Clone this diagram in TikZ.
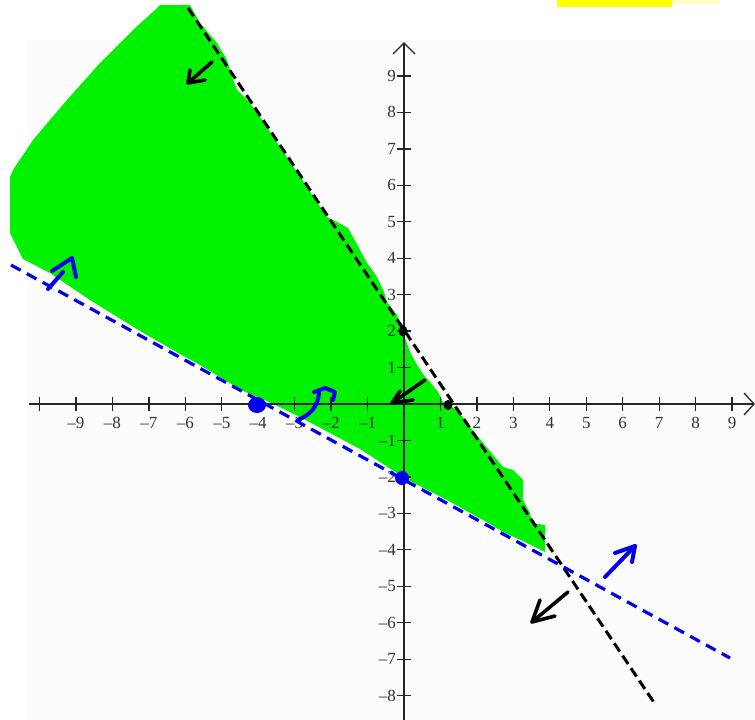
\documentclass[tikz,border=0pt]{standalone}
\usepackage{fontspec}
\setmainfont{Liberation Serif}
\definecolor{regiongreen}{RGB}{0,242,0}
\definecolor{lineblue}{RGB}{0,0,235}
\definecolor{hlyellow}{RGB}{255,255,0}
\tikzset{
  axisline/.style={line width=1.3pt, black!85},
  ticklabel/.style={inner sep=0pt, font=\fontsize{17}{20}\selectfont, text=black!80},
  blackdash/.style={line width=3pt, black, dash pattern=on 10pt off 5pt},
  bluedash/.style={line width=3.2pt, lineblue, dash pattern=on 11pt off 7pt},
  penblack/.style={line width=3.6pt, black, line cap=round, line join=round},
  penblue/.style={line width=4pt, lineblue, line cap=round, line join=round},
}
\begin{document}
\begin{tikzpicture}[x=1pt,y=-1pt]
\useasboundingbox (0,0) rectangle (755,720);
% faint page background and highlight
\fill[black!1] (27,40) rectangle (755,720);
\fill[hlyellow] (557,0) rectangle (672,7);
\fill[hlyellow!25] (672,0) rectangle (720,4);
% shaded region
\fill[regiongreen] (160,5) -- (190,5) -- (200,23) -- (217,43) -- (227,60) -- (232,77)
  -- (237,90) -- (250,103) -- (260,117) -- (327,217) -- (337,222) -- (348,228)
  -- (353,237) -- (367,263) -- (377,277) -- (384,292) -- (387,302) -- (397,315)
  -- (402,327) -- (405,338) -- (410,352) -- (417,365) -- (425,377) -- (430,382)
  -- (438,392) -- (443,402) -- (457,410) -- (470,427) -- (503,467) -- (513,470)
  -- (523,480) -- (523,500) -- (530,513) -- (532,523) -- (545,525) -- (545,552)
  -- (523,541) -- (507,534) -- (490,524) -- (447,500) -- (410,481) -- (400,475)
  -- (360,449) -- (300,417) -- (267,401) -- (243,391) -- (200,365) -- (180,354)
  -- (140,331) -- (90,300) -- (50,273) -- (23,259) -- (17,247) -- (10,233)
  -- (10,177) -- (13,170) -- (33,140) -- (67,100) -- (100,63) -- (133,30)
  -- (155,10) -- cycle;
% axes
\coordinate (xl) at (29,404);
\coordinate (xr) at (754,404);
\coordinate (yb) at (404,720);
\coordinate (yt) at (404,43);
\draw[axisline] (xl) -- (xr);
\draw[axisline] ([shift={(-10,-11)}]xr) -- (xr) -- ([shift={(-10,11)}]xr);
\draw[axisline] (yb) -- (yt);
\draw[axisline] ([shift={(-11,11)}]yt) -- (yt) -- ([shift={(11,11)}]yt);
\foreach \i in {-10,...,-1,1,2,...,9}{
  \draw[axisline] ({404+36.45*\i},397) -- ({404+36.45*\i},411);
}
\foreach \i in {-9,...,-1}{
  \node[ticklabel] (xlab\i) at ({404+36.45*\i},423) {\textendash\the\numexpr-\i\relax};
}
\foreach \i in {1,...,9}{
  \node[ticklabel] (xlab\i) at ({404+36.45*\i},423) {\i};
}
\foreach \j in {-8,...,-1,1,2,...,9}{
  \draw[axisline] (397,{404-36.45*\j}) -- (411,{404-36.45*\j});
}
\foreach \j in {1,...,9}{
  \node[ticklabel, anchor=east] (ylab\j) at (396,{404-36.45*\j}) {\j};
}
\foreach \j in {-8,...,-1}{
  \node[ticklabel, anchor=east] (ylab\j) at (396,{404-36.45*\j}) {\textendash\the\numexpr-\j\relax};
}
% boundary lines
\coordinate (bkA) at (188,8);
\coordinate (bkB) at (655,704);
\coordinate (blA) at (11,265);
\coordinate (blB) at (730,658);
\draw[blackdash] (bkA) -- (bkB);
\draw[bluedash] (blA) -- (blB);
% dots
\fill[lineblue] (257,405) ellipse (9pt and 8pt);
\fill[lineblue] (402,478) ellipse (7pt and 7pt);
\fill[black] (403,331) ellipse (4.5pt and 5.5pt);
\fill[black] (448,405) ellipse (4.5pt and 5pt);
% hand-drawn arrows (black)
\coordinate (a1s) at (212,62);  \coordinate (a1t) at (188,83);
\draw[penblack] (a1s) -- (a1t);
\draw[penblack] (190,70) -- (a1t) -- (205,80);
\coordinate (a2s) at (425,380); \coordinate (a2t) at (392,403);
\draw[penblack] (a2s) -- (a2t);
\draw[penblack] (400,391) -- (a2t) -- (413,400);
\coordinate (a3s) at (568,592); \coordinate (a3t) at (532,622);
\draw[penblack] (a3s) -- (a3t);
\draw[penblack] (540,600) -- (a3t) -- (555,616);
% hand-drawn arrows (blue)
\coordinate (b1s) at (605,577); \coordinate (b1t) at (635,546);
\draw[penblue] (b1s) -- (b1t);
\draw[penblue] (615,553) -- (b1t) -- (632,562);
\coordinate (b2s) at (48,289); \coordinate (b2t) at (63,272);
\draw[penblue] (b2s) -- (b2t);
\draw[penblue] (52,271) -- (72,258) -- (76,277);
\coordinate (b3s) at (298,420); \coordinate (b3t) at (319,393);
\draw[penblue] (b3s) .. controls (312,414) and (318,405) .. (b3t);
\draw[penblue] (314,392) -- (325,388) -- (335,392) -- (333,400);
\end{tikzpicture}
\end{document}
